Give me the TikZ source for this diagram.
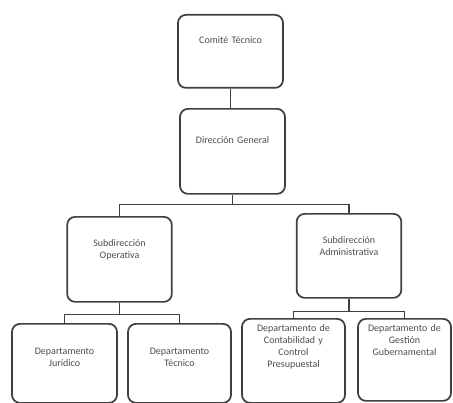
\documentclass[tikz,border=0pt]{standalone}
\usepackage{fontspec}
\setmainfont{Carlito}
\usetikzlibrary{positioning}
\tikzset{
    unidad/.style={
                draw=black!75,
                line width=1.3pt,
                rounded corners=6pt,
                anchor=north,
                inner xsep=2pt,
                inner ysep=0pt,
                text centered,
                text=black!70,
                font=\fontsize{7.5}{9}\selectfont
            },
    enlace/.style={
                draw=black!75,
                line width=1pt
            },
}
\begin{document}
\begin{tikzpicture}[x=0.75pt,y=-0.75pt,
    cabeza/.style={unidad, text width=74.75pt},
    subdir/.style={unidad, text width=74.5pt, text height=22.5pt},
    depto/.style={unidad, text width=73.25pt},
  ]
  \useasboundingbox (0,0) rectangle (453,403);
  % Direccion
  \node[cabeza, text height=21.75pt, text depth=33pt] (comite) at (230.5,14) {Comité Técnico};
  \node[cabeza, text height=26.25pt, text depth=37.5pt] (direccion) at (232.5,108) {Dirección General};
  % Subdirecciones
  \node[subdir, text depth=41.25pt] (operativa) at (119.5,216) {Subdirección\\ Operativa};
  \node[subdir, text depth=40.5pt] (administrativa) at (349,213) {Subdirección\\ Administrativa};
  % Departamentos
  \node[depto, text width=74.75pt, text height=23.25pt, text depth=36pt] (juridico) at (64.5,323) {Departamento\\ Jurídico};
  \node[depto, text height=23.25pt, text depth=36pt] (tecnico) at (179.5,323) {Departamento\\ Técnico};
  \node[depto, text height=9.75pt, text depth=53.25pt] (contabilidad) at (293.5,318) {Departamento de\\ Contabilidad y\\ Control\\ Presupuestal};
  \node[depto, text width=65.75pt, text height=9.75pt, text depth=51.75pt] (gestion) at (404.5,318) {Departamento de\\ Gestión\\ Gubernamental};
  % Lineas
  \draw[enlace] (comite.south) -- (comite.south |- direccion.north);
  \draw[enlace] (direccion.south) -- ++(0,-7.5pt) coordinate (busA) -| (operativa.north)
    (busA) -| (administrativa.north);
  \draw[enlace] (operativa.south) -- ++(0,-9pt) coordinate (busB) -| (juridico.north)
    (busB) -| (tecnico.north);
  \draw[enlace] (administrativa.south) -- ++(0,-9.75pt) coordinate (busC) -| (contabilidad.north)
    (busC) -| (gestion.north);
\end{tikzpicture}
\end{document}
